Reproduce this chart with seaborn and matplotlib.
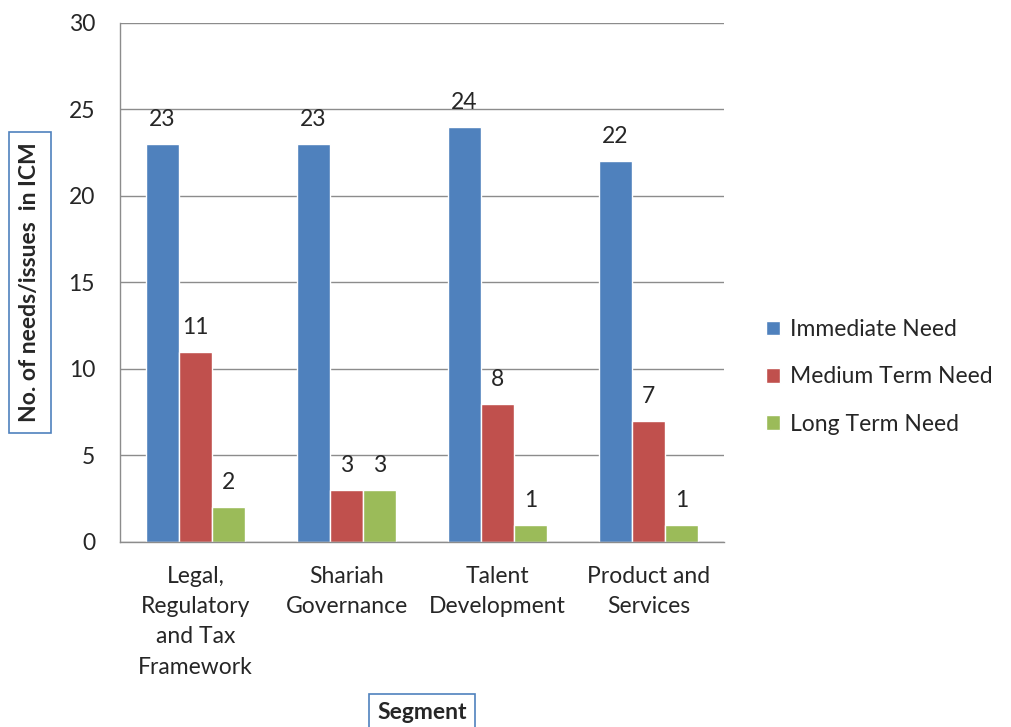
import numpy as np
import pandas as pd
import seaborn as sns
import matplotlib.pyplot as plt

# --- DATA ---
segments = ["Legal,\nRegulatory\nand Tax\nFramework", "Shariah\nGovernance",
            "Talent\nDevelopment", "Product and\nServices"]
needs = ["Immediate Need", "Medium Term Need", "Long Term Need"]
immediate = [23, 23, 24, 22]
medium = [11, 3, 8, 7]
long_term = [2, 3, 1, 1]
colors = ["#4F81BD", "#C0504D", "#9BBB59"]

df = pd.DataFrame({
    "Segment": segments * 3,
    "Need": np.repeat(needs, len(segments)),
    "Count": immediate + medium + long_term,
})

sns.set_style("white")
plt.rcParams['font.family'] = ['Lato', 'DejaVu Sans']
FS = 16.5

fig = plt.figure(figsize=(10.11, 7.27), dpi=100)
ax = fig.add_axes([0.1187, 0.2545, 0.5975, 0.714])

sns.barplot(data=df, x="Segment", y="Count", hue="Need", palette=colors,
            width=0.66, gap=0, ax=ax, saturation=1, legend=True)

for cont in ax.containers:
    ax.bar_label(cont, padding=10, fontsize=FS)

ax.set_ylim(0, 30)
ax.set_yticks(range(0, 31, 5))
ax.set_xlim(-0.5, 3.5)
ax.yaxis.grid(True, color="#8C8C8C", linewidth=1)
ax.set_axisbelow(True)
for s in ["top", "right"]:
    ax.spines[s].set_visible(False)
for s in ["left", "bottom"]:
    ax.spines[s].set_color("#8C8C8C")
    ax.spines[s].set_linewidth(1)

# category ticks sit between groups
ax.set_xticks([-0.5, 0.5, 1.5, 2.5, 3.5], minor=False)
ax.set_xticklabels([])
ax.set_xticks(range(4), minor=True)
ax.set_xticklabels(segments, minor=True, fontsize=FS, linespacing=1.55, va="top")
ax.tick_params(axis="x", which="major", length=6, color="#8C8C8C", direction="out")
ax.tick_params(axis="x", which="minor", length=0, pad=17)
ax.tick_params(axis="y", length=6, color="#8C8C8C", direction="out", labelsize=FS, pad=12)

ax.set_xlabel("Segment", fontsize=FS, fontweight="bold",
              bbox=dict(boxstyle="square,pad=0.35", fc="white", ec="#4F81BD", lw=1.2))
ax.set_ylabel("No. of needs/issues  in ICM", fontsize=FS, fontweight="bold",
              bbox=dict(boxstyle="square,pad=0.45", fc="white", ec="#4F81BD", lw=1.2))
ax.xaxis.label.set_va("center")
ax.yaxis.label.set_va("center")
ax.xaxis.set_label_coords(0.5, -0.328)
ax.yaxis.set_label_coords(-0.149, 0.5)

leg = ax.legend(loc="center left", bbox_to_anchor=(1.035, 0.318), frameon=False,
                fontsize=FS, handlelength=0.6, handleheight=0.6, labelspacing=1.15,
                handletextpad=0.45)

fig.savefig("out.png", dpi=100)
